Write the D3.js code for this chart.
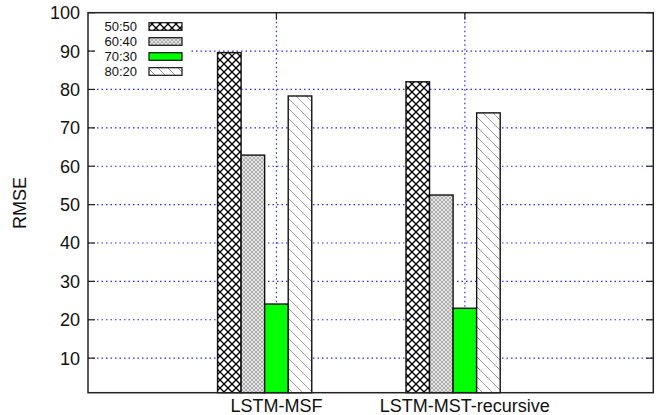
<!DOCTYPE html>
<html>
<head>
<meta charset="utf-8">
<script src="https://cdn.jsdelivr.net/npm/d3@7/dist/d3.min.js"></script>
<style>
  html, body { margin: 0; padding: 0; background: #fff; }
  svg { display: block; font-family: "Liberation Sans", Arial, Helvetica, sans-serif; }
</style>
</head>
<body>
<svg id="chart" width="663" height="415"></svg>
<script>
// Categories on the x axis and the split ratios shown as clustered bars
const categories = ["LSTM-MSF", "LSTM-MST-recursive"];
const seriesNames = ["50:50", "60:40", "70:30", "80:20"];
const rmse5050 = [89.6, 82.0];
const rmse6040 = [62.9, 52.5];
const rmse7030 = [24.1, 23.0];
const rmse8020 = [78.3, 73.9];
const yTicks = [10, 20, 30, 40, 50, 60, 70, 80, 90, 100];

const seriesValues = [rmse5050, rmse6040, rmse7030, rmse8020];
const fills = ["url(#pCross)", "url(#pFine)", "#00ff00", "url(#pDiag)"];

const plot = { left: 88, right: 653.3, top: 12.7, bottom: 392.7 };

const svg = d3.select("#chart");
const defs = svg.append("defs");

// Dense black crosshatch
const pc = defs.append("pattern").attr("id", "pCross")
  .attr("patternUnits", "userSpaceOnUse").attr("width", 8).attr("height", 8);
pc.append("rect").attr("width", 8).attr("height", 8).attr("fill", "#fff");
pc.append("path").attr("d", "M0,0L8,8M0,8L8,0")
  .attr("stroke", "#000").attr("stroke-width", 1.3).attr("fill", "none");

// Fine grey checker
const pf = defs.append("pattern").attr("id", "pFine")
  .attr("patternUnits", "userSpaceOnUse").attr("width", 4).attr("height", 4);
pf.append("rect").attr("width", 4).attr("height", 4).attr("fill", "#e4e4e4");
pf.append("path").attr("d", "M0,0L4,4M0,4L4,0")
  .attr("stroke", "#a8a8a8").attr("stroke-width", 0.9).attr("fill", "none");

// Light grey backslash hatch
const pd = defs.append("pattern").attr("id", "pDiag")
  .attr("patternUnits", "userSpaceOnUse").attr("width", 10).attr("height", 10);
pd.append("rect").attr("width", 10).attr("height", 10).attr("fill", "#fff");
pd.append("path").attr("d", "M0,0L10,10M-1,9L1,11M9,-1L11,1")
  .attr("stroke", "#a0a0a0").attr("stroke-width", 1).attr("fill", "none");

const x = d3.scaleLinear().domain([-1, 2]).range([plot.left, plot.right]);
const y = d3.scaleLinear().domain([1, 100]).range([plot.bottom, plot.top]);

const barW = 0.125;
const groupStart = -0.3125;

const gridColor = "#2a2aff";

// Horizontal grid
svg.append("g").selectAll("line").data(yTicks.filter(t => t < 100)).join("line")
  .attr("x1", plot.left).attr("x2", plot.right)
  .attr("y1", d => y(d)).attr("y2", d => y(d))
  .attr("stroke", gridColor).attr("stroke-width", 1.2)
  .attr("stroke-dasharray", "1.5,3");

// Vertical grid at category positions
svg.append("g").selectAll("line").data(categories).join("line")
  .attr("x1", (d, i) => x(i)).attr("x2", (d, i) => x(i))
  .attr("y1", plot.top).attr("y2", plot.bottom)
  .attr("stroke", gridColor).attr("stroke-width", 1.2)
  .attr("stroke-dasharray", "1.5,3");

// Y ticks on both sides, pointing inward
const tickLen = 7;
const ticksG = svg.append("g").attr("stroke", "#222").attr("stroke-width", 1.2);
ticksG.selectAll(".tl").data(yTicks).join("line").attr("class", "tl")
  .attr("x1", plot.left).attr("x2", plot.left + tickLen)
  .attr("y1", d => y(d)).attr("y2", d => y(d));
ticksG.selectAll(".tr").data(yTicks).join("line").attr("class", "tr")
  .attr("x1", plot.right).attr("x2", plot.right - tickLen)
  .attr("y1", d => y(d)).attr("y2", d => y(d));
ticksG.selectAll(".tt").data(categories).join("line").attr("class", "tt")
  .attr("x1", (d, i) => x(i)).attr("x2", (d, i) => x(i))
  .attr("y1", plot.top).attr("y2", plot.top + tickLen);

// Bars
const barsG = svg.append("g");
seriesValues.forEach((vals, s) => {
  barsG.append("g").selectAll("rect").data(vals).join("rect")
    .attr("x", (d, i) => x(i + groupStart + s * barW))
    .attr("width", x(barW) - x(0))
    .attr("y", d => y(d))
    .attr("height", d => y(1) - y(d))
    .attr("fill", fills[s])
    .attr("stroke", "#111").attr("stroke-width", 1.4);
});

// Legend (opaque box, no border)
const legend = svg.append("g");
legend.append("rect").attr("x", 96).attr("y", 15).attr("width", 94).attr("height", 64)
  .attr("fill", "#fff");
seriesNames.forEach((name, i) => {
  const cy = 26.5 + i * 15;
  legend.append("text").attr("x", 137).attr("y", cy).attr("dy", "0.36em")
    .attr("text-anchor", "end").attr("font-size", 13).attr("fill", "#111").text(name);
  legend.append("rect").attr("x", 149).attr("y", cy - 3.8).attr("width", 33).attr("height", 7.6)
    .attr("fill", fills[i]).attr("stroke", "#111").attr("stroke-width", 1.2);
});

// Frame
svg.append("rect")
  .attr("x", plot.left).attr("y", plot.top)
  .attr("width", plot.right - plot.left).attr("height", plot.bottom - plot.top)
  .attr("fill", "none").attr("stroke", "#222").attr("stroke-width", 1.5);

// Y tick labels
svg.append("g").selectAll("text").data(yTicks).join("text")
  .attr("x", 80).attr("y", d => y(d)).attr("dy", "0.36em")
  .attr("text-anchor", "end").attr("font-size", 18).attr("fill", "#111")
  .text(d => d);

// Category labels
svg.append("g").selectAll("text").data(categories).join("text")
  .attr("x", (d, i) => x(i)).attr("y", 412)
  .attr("text-anchor", "middle").attr("font-size", 18).attr("fill", "#111")
  .text(d => d);

// Y axis title
svg.append("text")
  .attr("transform", "translate(26,203) rotate(-90)")
  .attr("text-anchor", "middle").attr("font-size", 18).attr("fill", "#111")
  .text("RMSE");
</script>
</body>
</html>
